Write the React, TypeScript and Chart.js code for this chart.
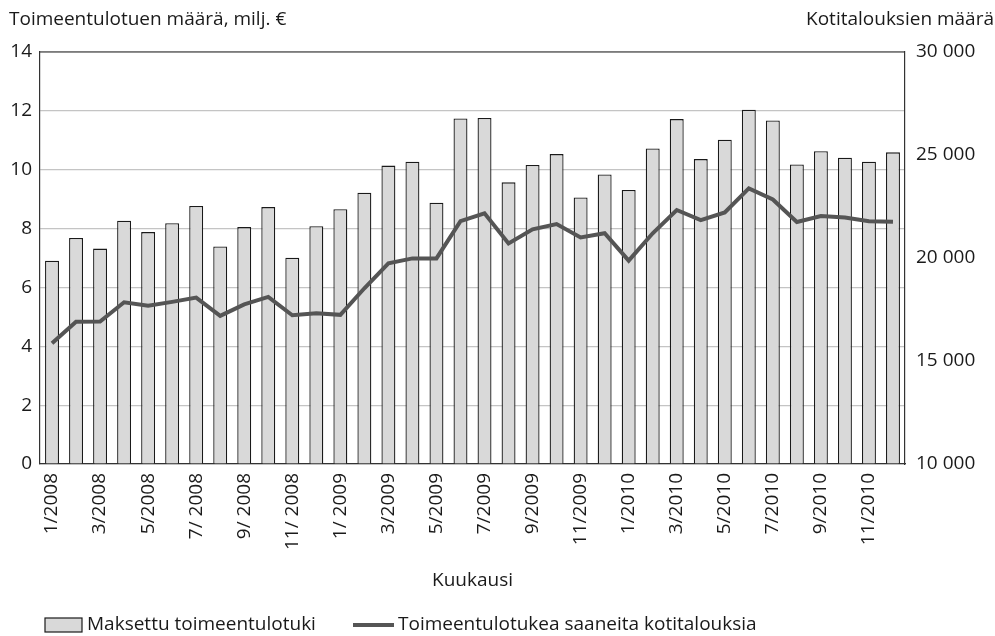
import React, { useEffect, useRef } from "react";
import { Chart, registerables } from "chart.js";

Chart.register(...registerables);

const months: string[] = [
  "1/2008", "2/2008", "3/2008", "4/2008", "5/2008", "6/2008", "7/2008", "8/2008", "9/2008", "10/2008", "11/2008", "12/2008",
  "1/2009", "2/2009", "3/2009", "4/2009", "5/2009", "6/2009", "7/2009", "8/2009", "9/2009", "10/2009", "11/2009", "12/2009",
  "1/2010", "2/2010", "3/2010", "4/2010", "5/2010", "6/2010", "7/2010", "8/2010", "9/2010", "10/2010", "11/2010", "12/2010",
];

const tickLabels: string[] = [
  "1/2008", "", "3/2008", "", "5/2008", "", "7/ 2008", "", "9/ 2008", "", "11/ 2008", "",
  "1/ 2009", "", "3/2009", "", "5/2009", "", "7/2009", "", "9/2009", "", "11/2009", "",
  "1/2010", "", "3/2010", "", "5/2010", "", "7/2010", "", "9/2010", "", "11/2010", "",
];

// Maksettu toimeentulotuki, milj. €
const paidSupport: number[] = [
  6.91, 7.68, 7.32, 8.27, 7.88, 8.18, 8.77, 7.39, 8.05, 8.73, 7.01, 8.08,
  8.66, 9.22, 10.14, 10.27, 8.88, 11.74, 11.76, 9.57, 10.16, 10.53, 9.06, 9.84,
  9.31, 10.72, 11.72, 10.36, 11.02, 12.04, 11.67, 10.18, 10.63, 10.41, 10.27, 10.59,
];

// Toimeentulotukea saaneita kotitalouksia
const households: number[] = [
  15860, 16910, 16920, 17850, 17680, 17870, 18080, 17190, 17750, 18110, 17220, 17320,
  17240, 18530, 19740, 19980, 19980, 21790, 22170, 20710, 21390, 21650, 21000, 21200,
  19870, 21200, 22330, 21840, 22210, 23380, 22840, 21750, 22040, 21970, 21780, 21760,
];

const leftTicks = { min: 0, max: 14, step: 2 };
const rightTicks = { min: 10000, max: 30000, step: 5000 };

const leftTitle = "Toimeentulotuen määrä, milj. €";
const rightTitle = "Kotitalouksien määrä";
const xTitle = "Kuukausi";
const barLabel = "Maksettu toimeentulotuki";
const lineLabel = "Toimeentulotukea saaneita kotitalouksia";

const FONT = "'Open Sans', Lato, sans-serif";
const FS = 19;
const TEXT = "#1a1a1a";
const BAR_FILL = "#d9d9d9";
const BAR_BORDER = "#1a1a1a";
const LINE_COLOR = "#555555";

const extrasPlugin = {
  id: "extras",
  afterDraw(chart: any) {
    const { ctx, chartArea } = chart;
    ctx.save();
    // top border of plot area
    ctx.strokeStyle = "#333";
    ctx.lineWidth = 1.2;
    ctx.beginPath();
    ctx.moveTo(chartArea.left, chartArea.top);
    ctx.lineTo(chartArea.right, chartArea.top);
    ctx.stroke();

    ctx.fillStyle = TEXT;
    ctx.font = `${FS}px ${FONT}`;
    ctx.textBaseline = "middle";
    ctx.textAlign = "left";
    ctx.fillText(leftTitle, 9, 20);
    ctx.textAlign = "right";
    ctx.fillText(rightTitle, 994, 20);
    ctx.textAlign = "center";
    ctx.fillText(xTitle, (chartArea.left + chartArea.right) / 2, 581);

    // legend
    const ly = 625;
    const ds = chart.data.datasets;
    ctx.fillStyle = BAR_FILL;
    ctx.fillRect(45, ly - 7, 37, 14);
    ctx.strokeStyle = BAR_BORDER;
    ctx.lineWidth = 1.2;
    ctx.strokeRect(45, ly - 7, 37, 14);
    ctx.fillStyle = TEXT;
    ctx.textAlign = "left";
    ctx.fillText(ds[1].label, 87, ly);
    ctx.strokeStyle = LINE_COLOR;
    ctx.lineWidth = 4;
    ctx.beginPath();
    ctx.moveTo(353, ly);
    ctx.lineTo(394, ly);
    ctx.stroke();
    ctx.fillText(ds[0].label, 398, ly);
    ctx.restore();
  },
};

export default function App() {
  const ref = useRef<HTMLCanvasElement | null>(null);
  useEffect(() => {
    if (!ref.current) return;
    const chart = new Chart(ref.current, {
      type: "bar",
      data: {
        labels: months,
        datasets: [
          {
            type: "line",
            label: lineLabel,
            data: households,
            yAxisID: "y1",
            borderColor: LINE_COLOR,
            borderWidth: 4,
            pointRadius: 0,
            tension: 0,
            order: 0,
          } as any,
          {
            type: "bar",
            label: barLabel,
            data: paidSupport,
            yAxisID: "y",
            backgroundColor: BAR_FILL,
            borderColor: BAR_BORDER,
            borderWidth: 1.3,
            categoryPercentage: 1,
            barPercentage: 0.58,
            order: 1,
          },
        ],
      },
      options: {
        animation: false,
        responsive: false,
        maintainAspectRatio: false,
        layout: { padding: { top: 52, left: 0, right: 0, bottom: 0 } },
        plugins: { legend: { display: false }, tooltip: { enabled: false } },
        scales: {
          x: {
            grid: { display: false, drawTicks: false },
            border: { display: true, color: "#333", width: 1.2 },
            afterFit(scale: any) {
              scale.height = 172;
            },
            ticks: {
              autoSkip: false,
              maxRotation: 90,
              minRotation: 90,
              padding: 9,
              color: TEXT,
              font: { family: FONT, size: FS },
              callback: (_v: any, i: number) => tickLabels[i],
            },
          },
          y: {
            position: "left",
            min: leftTicks.min,
            max: leftTicks.max,
            afterFit(scale: any) {
              scale.width = 40;
            },
            grid: { color: "#c4c4c4", lineWidth: 1.2, drawTicks: false },
            border: { display: true, color: "#333", width: 1.2 },
            ticks: {
              stepSize: leftTicks.step,
              padding: 8,
              color: TEXT,
              font: { family: FONT, size: FS },
            },
          },
          y1: {
            position: "right",
            min: rightTicks.min,
            max: rightTicks.max,
            afterFit(scale: any) {
              scale.width = 90;
            },
            grid: { display: false, drawTicks: false },
            border: { display: true, color: "#333", width: 1.2 },
            ticks: {
              stepSize: rightTicks.step,
              padding: 11,
              color: TEXT,
              font: { family: FONT, size: FS },
              callback: (v: any) => {
                const n = Number(v);
                const th = Math.floor(n / 1000);
                const rest = String(n % 1000).padStart(3, "0");
                return `${th} ${rest}`;
              },
            },
          },
        },
      },
      plugins: [extrasPlugin],
    });
    return () => chart.destroy();
  }, []);
  return (
    <div style={{ position: "fixed", left: 0, top: 0, width: 995, height: 636, background: "#fff" }}>
      <canvas ref={ref} width={995} height={636} style={{ display: "block" }} />
    </div>
  );
}
